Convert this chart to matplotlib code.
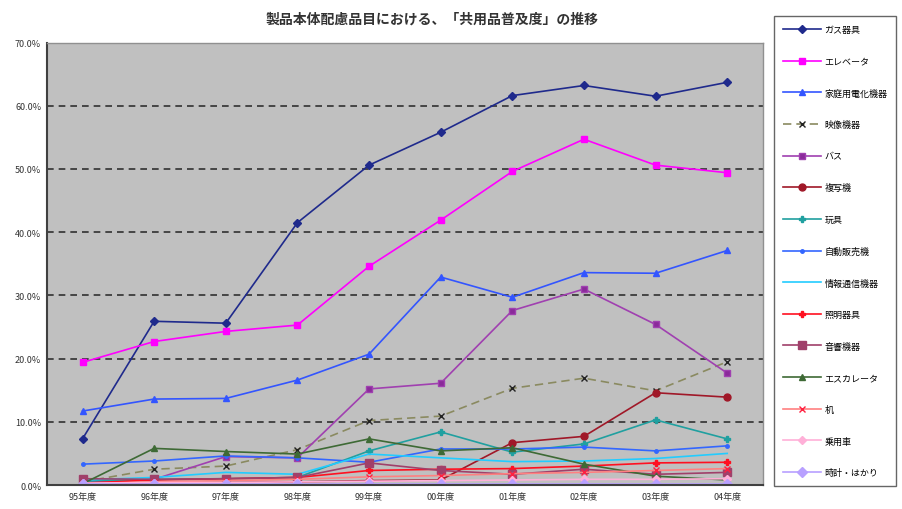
import matplotlib
matplotlib.use("Agg")
import matplotlib.pyplot as plt
from matplotlib.ticker import FuncFormatter

plt.rcParams['font.family'] = ['Noto Sans CJK JP', 'DejaVu Sans']

years = ["95年度", "96年度", "97年度", "98年度", "99年度", "00年度", "01年度", "02年度", "03年度", "04年度"]

gas_kigu      = [7.3, 25.9, 25.6, 41.5, 50.6, 55.8, 61.6, 63.2, 61.5, 63.7]
elevator      = [19.4, 22.7, 24.3, 25.3, 34.6, 41.9, 49.6, 54.7, 50.6, 49.4]
kaden         = [11.7, 13.6, 13.7, 16.6, 20.7, 32.9, 29.7, 33.6, 33.5, 37.1]
eizo          = [0.5, 2.5, 3.0, 5.6, 10.2, 10.9, 15.3, 16.9, 14.9, 19.5]
bath          = [0.5, 0.9, 4.5, 4.3, 15.2, 16.1, 27.6, 31.0, 25.4, 17.7]
fukushaki     = [0.1, 0.4, 0.4, 0.5, 0.7, 0.8, 6.7, 7.7, 14.6, 13.9]
gangu         = [0.6, 0.9, 1.0, 1.2, 5.4, 8.4, 5.2, 6.5, 10.3, 7.3]
jihanki       = [3.3, 3.8, 4.6, 4.3, 3.6, 5.7, 5.7, 6.0, 5.4, 6.2]
joho_tsushin  = [0.8, 1.2, 2.0, 1.7, 4.9, 4.3, 3.7, 3.8, 4.2, 5.0]
shomei        = [0.3, 0.8, 1.0, 1.2, 2.3, 2.5, 2.6, 3.0, 3.5, 3.6]
onkyo         = [1.0, 0.9, 1.0, 1.2, 3.5, 2.3, 1.7, 2.5, 1.7, 2.0]
escalator     = [0.2, 5.8, 5.3, 4.9, 7.3, 5.4, 5.9, 3.3, 1.4, 0.8]
tsukue        = [0.2, 0.5, 0.7, 0.9, 1.3, 1.5, 1.8, 2.0, 2.3, 2.6]
joyosha       = [0.3, 0.4, 0.4, 0.5, 0.6, 0.7, 0.8, 0.9, 0.9, 1.0]
tokei         = [0.1, 0.1, 0.1, 0.1, 0.1, 0.1, 0.1, 0.1, 0.1, 0.1]

series = [
    ("ガス器具", gas_kigu, dict(color="#1F2A8C", marker="D", ms=4, ls="-")),
    ("エレベータ", elevator, dict(color="#FF00FF", marker="s", ms=5, ls="-")),
    ("家庭用電化機器", kaden, dict(color="#3355FF", marker="^", ms=5, ls="-")),
    ("映像機器", eizo, dict(color="#8A8A60", marker="x", ms=5, ls=(0, (5, 3)), mec="#222222")),
    ("バス", bath, dict(color="#A040B0", marker="s", ms=4, ls="-", mfc="#8A2A9A")),
    ("複写機", fukushaki, dict(color="#A01828", marker="o", ms=5, ls="-")),
    ("玩具", gangu, dict(color="#20A0A0", marker="P", ms=5, ls="-")),
    ("自動販売機", jihanki, dict(color="#3366FF", marker="o", ms=2.5, ls="-")),
    ("情報通信機器", joho_tsushin, dict(color="#22CCFF", marker="", ls="-")),
    ("照明器具", shomei, dict(color="#FF1020", marker="P", ms=5, ls="-")),
    ("音響機器", onkyo, dict(color="#A0406A", marker="s", ms=6, ls="-")),
    ("エスカレータ", escalator, dict(color="#3E6A35", marker="^", ms=5, ls="-")),
    ("机", tsukue, dict(color="#FF8080", marker="x", ms=4, ls="-", mec="#FF2040")),
    ("乗用車", joyosha, dict(color="#FFB0D8", marker="D", ms=4, ls="-")),
    ("時計・はかり", tokei, dict(color="#B8A0FF", marker="D", ms=5, ls="-")),
]

fig = plt.figure(figsize=(9.03, 5.10), dpi=100)
ax = fig.add_axes([0.0517, 0.047, 0.7933, 0.8677])
ax.set_facecolor("#C0C0C0")

x = list(range(len(years)))
handles = []
for name, vals, style in series:
    style = dict(style)
    ls = style.pop("ls")
    line, = ax.plot(x, vals, label=name, linestyle=ls, lw=1.2, **style)
    handles.append(line)

ax.set_xlim(-0.5, len(years) - 0.5)
ax.set_ylim(0, 70)
ax.set_yticks(range(0, 71, 10))
ax.yaxis.set_major_formatter(FuncFormatter(lambda v, p: f"{v:.1f}%"))
ax.set_xticks(x)
ax.set_xticklabels(years)
ax.tick_params(axis="both", labelsize=6.5, length=0, colors="#333333", pad=4)
ax.tick_params(axis="x", pad=5)

for yv in range(10, 70, 10):
    ax.axhline(yv, color="#303030", lw=1.2, ls=(0, (4, 3)), zorder=0.5)

for side in ["left", "bottom"]:
    ax.spines[side].set_color("#404040")
    ax.spines[side].set_linewidth(1.5)
for side in ["top", "right"]:
    ax.spines[side].set_color("#909090")
    ax.spines[side].set_linewidth(1.0)

fig.text(0.478, 0.962, "製品本体配慮品目における、「共用品普及度」の推移",
         ha="center", va="center", fontsize=10, fontweight="bold", color="#333333")

leg = fig.legend(handles=handles, loc="upper left", bbox_to_anchor=(0.852, 0.975),
                 fontsize=6.5, frameon=True, fancybox=False, edgecolor="#404040",
                 labelspacing=2.5, handlelength=4.2, borderpad=1.0,
                 handletextpad=0.4)
leg.get_frame().set_linewidth(1.0)

fig.savefig("out.png", dpi=100)
